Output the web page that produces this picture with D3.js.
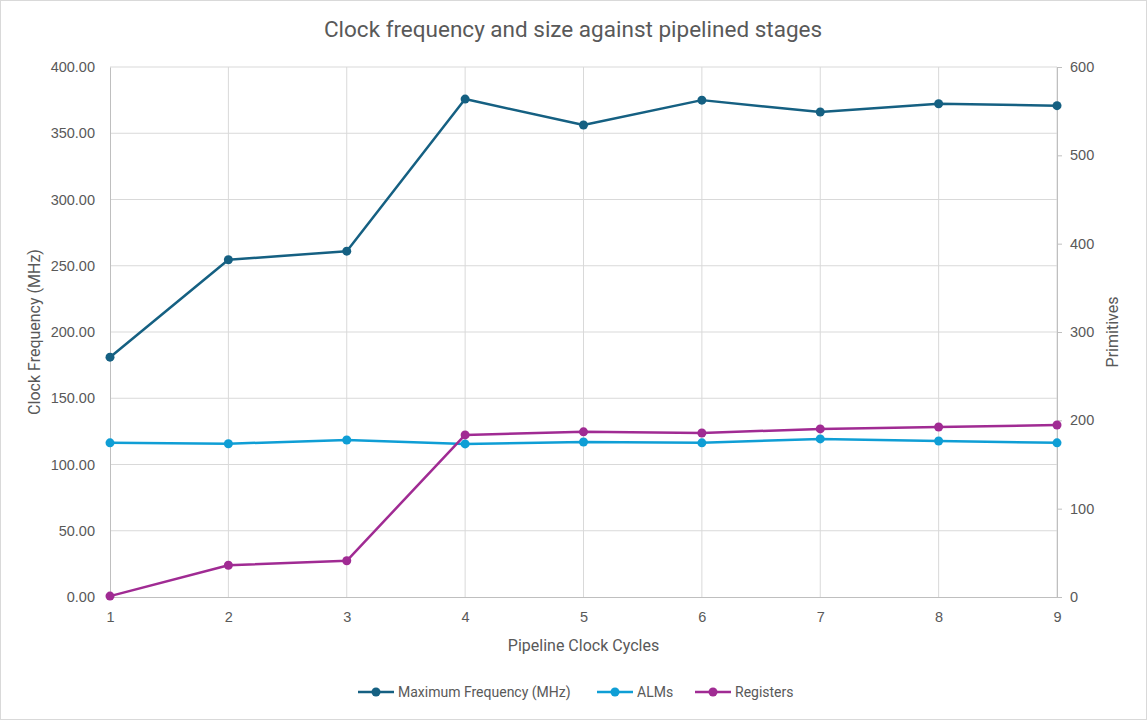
<!DOCTYPE html>
<html>
<head>
<meta charset="utf-8">
<script src="https://cdn.jsdelivr.net/npm/d3@7"></script>
<style>
  body { margin: 0; background: #fff; }
  svg { font-family: Roboto, "Open Sans", sans-serif; }
  .tick text { fill: #595959; font-size: 14.5px; }
</style>
</head>
<body>
<svg id="chart" width="1147" height="720"></svg>
<script>
// data
const stages = [1, 2, 3, 4, 5, 6, 7, 8, 9];
const maxFreq = [181.0, 254.5, 261.0, 375.8, 356.2, 375.0, 366.0, 372.3, 370.8];
const alms = [174.5, 173.5, 177.8, 173.3, 175.5, 174.5, 179.0, 176.6, 174.5];
const registers = [1, 36, 41, 183.5, 187, 185.7, 190.3, 192.5, 194.7];

const leftTicks = [0, 50, 100, 150, 200, 250, 300, 350, 400];
const rightTicks = [0, 100, 200, 300, 400, 500, 600];

const series = [
    {name: "Maximum Frequency (MHz)", values: maxFreq, axis: "left", color: "#156082"},
    {name: "ALMs", values: alms, axis: "right", color: "#0F9ED5"},
    {name: "Registers", values: registers, axis: "right", color: "#A02B93"}
];

const margin = {top: 67, right: 90, bottom: 123, left: 110};
const W = 1147, H = 720;
const width = W - margin.left - margin.right;
const height = H - margin.top - margin.bottom;

const svg = d3.select("#chart");

// outer border
svg.append("rect")
    .attr("x", 0.5).attr("y", 0.5)
    .attr("width", W - 1).attr("height", H - 1)
    .attr("fill", "#fff").attr("stroke", "#d9d9d9");

const g = svg.append("g").attr("transform", `translate(${margin.left},${margin.top})`);

const x = d3.scaleLinear().domain([1, 9]).range([0, width]);
const yLeft = d3.scaleLinear().domain([0, 400]).range([height, 0]);
const yRight = d3.scaleLinear().domain([0, 600]).range([height, 0]);

// gridlines
g.append("g").selectAll("line")
    .data(leftTicks.slice(1))
    .join("line")
    .attr("x1", 0).attr("x2", width)
    .attr("y1", d => yLeft(d)).attr("y2", d => yLeft(d))
    .attr("stroke", "#d9d9d9").attr("stroke-width", 1);

g.append("g").selectAll("line")
    .data(stages.slice(1))
    .join("line")
    .attr("x1", d => x(d)).attr("x2", d => x(d))
    .attr("y1", 0).attr("y2", height)
    .attr("stroke", "#d9d9d9").attr("stroke-width", 1);

// axes
const xAxis = d3.axisBottom(x).tickValues(stages).tickFormat(d3.format("d")).tickSize(0).tickPadding(15);
const leftAxis = d3.axisLeft(yLeft).tickValues(leftTicks).tickFormat(d3.format(".2f")).tickSize(0).tickPadding(15);
const rightAxis = d3.axisRight(yRight).tickValues(rightTicks).tickSizeInner(5).tickSizeOuter(0).tickPadding(8);

g.append("g").attr("transform", `translate(0,${height})`).call(xAxis)
    .call(a => a.select(".domain").attr("stroke", "#bfbfbf"));
g.append("g").call(leftAxis)
    .call(a => a.select(".domain").attr("stroke", "#bfbfbf"));
g.append("g").attr("transform", `translate(${width},0)`).call(rightAxis)
    .call(a => a.select(".domain").attr("stroke", "#bfbfbf"))
    .call(a => a.selectAll(".tick line").attr("stroke", "#bfbfbf"));

// lines and markers
series.forEach(s => {
    const y = s.axis === "left" ? yLeft : yRight;
    const line = d3.line().x((d, i) => x(stages[i])).y(d => y(d));
    g.append("path")
        .datum(s.values)
        .attr("fill", "none")
        .attr("stroke", s.color)
        .attr("stroke-width", 2.5)
        .attr("stroke-linejoin", "round")
        .attr("d", line);
    g.append("g").selectAll("circle")
        .data(s.values)
        .join("circle")
        .attr("cx", (d, i) => x(stages[i]))
        .attr("cy", d => y(d))
        .attr("r", 4.5)
        .attr("fill", s.color);
});

// titles
svg.append("text")
    .attr("x", 573).attr("y", 37)
    .attr("text-anchor", "middle")
    .attr("font-size", 22.5)
    .attr("fill", "#595959")
    .text("Clock frequency and size against pipelined stages");

svg.append("text")
    .attr("x", margin.left + width / 2).attr("y", 651)
    .attr("text-anchor", "middle")
    .attr("font-size", 16)
    .attr("fill", "#595959")
    .text("Pipeline Clock Cycles");

svg.append("text")
    .attr("transform", `translate(40,${margin.top + height / 2}) rotate(-90)`)
    .attr("text-anchor", "middle")
    .attr("font-size", 16)
    .attr("fill", "#595959")
    .text("Clock Frequency (MHz)");

svg.append("text")
    .attr("transform", `translate(1118,${margin.top + height / 2}) rotate(-90)`)
    .attr("text-anchor", "middle")
    .attr("font-size", 16)
    .attr("fill", "#595959")
    .text("Primitives");

// legend
const legendX = [358, 597, 695];
const legend = svg.append("g").attr("transform", "translate(0,692)");
series.forEach((s, i) => {
    const item = legend.append("g").attr("transform", `translate(${legendX[i]},0)`);
    item.append("line").attr("x1", 0).attr("x2", 36).attr("y1", 0).attr("y2", 0)
        .attr("stroke", s.color).attr("stroke-width", 2.5);
    item.append("circle").attr("cx", 18).attr("cy", 0).attr("r", 4.5).attr("fill", s.color);
    item.append("text").attr("x", 40).attr("y", 5)
        .attr("font-size", 14).attr("fill", "#595959")
        .text(s.name);
});
</script>
</body>
</html>
